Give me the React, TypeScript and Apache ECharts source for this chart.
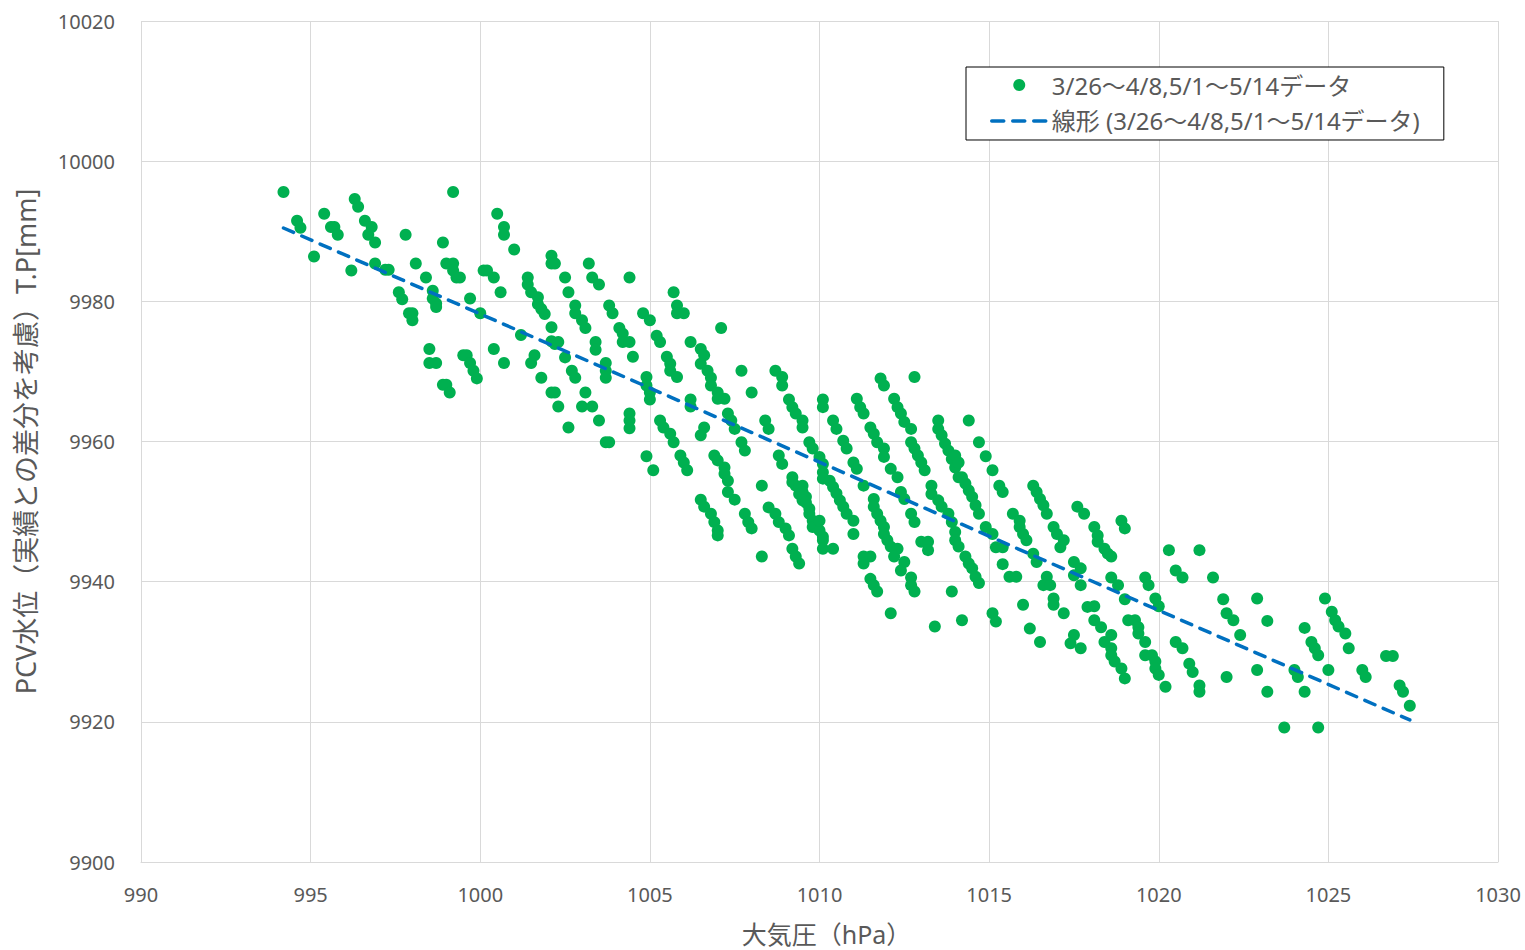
import { useEffect, useRef } from "react";
import * as echarts from "echarts";

// Series / legend labels
const SCATTER_NAME = "3/26～4/8,5/1～5/14データ";
const TREND_NAME = "線形 (3/26～4/8,5/1～5/14データ)";
const X_TITLE = "大気圧（hPa）";
const Y_TITLE = "PCV水位（実績との差分を考慮）T.P[mm]";

// Axis ranges
const X_MIN = 990;
const X_MAX = 1030;
const X_STEP = 5;
const Y_MIN = 9900;
const Y_MAX = 10020;
const Y_STEP = 20;

// Observations: [atmospheric pressure (hPa), PCV water level (mm)]
const obs994to1000: [number, number][] = [
  [994.2, 9995.6], [994.6, 9991.5], [994.7, 9990.5], [995.1, 9986.4], [995.4, 9992.5],
  [995.6, 9990.6], [995.7, 9990.6], [995.8, 9989.5], [996.2, 9984.4], [996.3, 9994.6],
  [996.4, 9993.5], [996.6, 9991.5], [996.8, 9990.6], [996.7, 9989.5], [996.9, 9988.4],
  [996.9, 9985.4], [997.2, 9984.5], [997.3, 9984.5], [997.8, 9989.5], [998.1, 9985.4],
  [997.6, 9981.3], [997.7, 9980.3], [997.9, 9978.3], [998.0, 9978.3], [998.0, 9977.3],
  [999.2, 9995.6], [998.9, 9988.4], [998.4, 9983.4], [999.0, 9985.4], [999.2, 9985.4],
  [999.2, 9984.4], [999.3, 9983.4], [999.4, 9983.4], [998.6, 9981.5], [998.6, 9980.4],
  [998.7, 9979.7], [998.7, 9979.2], [999.7, 9980.4], [998.5, 9973.2], [998.5, 9971.2],
  [998.7, 9971.2], [999.5, 9972.3], [999.6, 9972.3], [999.7, 9971.2], [999.8, 9970.1],
  [999.9, 9969.0], [998.9, 9968.1], [999.0, 9968.1], [999.1, 9967.0],
];

const obs1000to1005: [number, number][] = [
  [1000.5, 9992.5], [1000.7, 9990.6], [1000.7, 9989.5], [1001.0, 9987.4], [1000.1, 9984.4],
  [1000.2, 9984.4], [1000.4, 9983.4], [1000.6, 9981.3], [1000.0, 9978.3], [1001.2, 9975.2],
  [1001.4, 9983.4], [1001.4, 9982.4], [1001.5, 9981.3], [1001.7, 9980.6], [1001.7, 9979.6],
  [1001.8, 9978.9], [1001.9, 9978.2], [1002.1, 9986.5], [1002.1, 9985.4], [1002.2, 9985.4],
  [1002.1, 9976.3], [1002.1, 9974.3], [1002.2, 9973.9], [1000.4, 9973.2], [1000.7, 9971.2],
  [1001.6, 9972.3], [1001.5, 9971.2], [1001.8, 9969.1], [1002.1, 9967.0],
  [1003.2, 9985.4], [1003.3, 9983.4], [1003.5, 9982.4], [1004.4, 9983.4], [1002.5, 9983.4],
  [1002.6, 9981.3], [1002.8, 9979.4], [1002.8, 9978.3], [1003.0, 9977.3], [1003.1, 9976.2],
  [1003.8, 9979.4], [1003.9, 9978.3], [1004.8, 9978.3], [1005.0, 9977.3], [1004.1, 9976.2],
  [1004.2, 9975.4], [1004.2, 9974.2], [1004.4, 9974.2], [1003.4, 9974.2], [1003.4, 9973.1],
  [1002.3, 9974.2], [1002.5, 9972.0], [1004.5, 9972.1], [1003.7, 9971.2], [1003.7, 9970.1],
  [1003.7, 9969.1], [1002.7, 9970.1], [1002.8, 9969.1], [1004.9, 9969.2], [1004.9, 9968.0],
  [1005.0, 9967.0], [1005.0, 9966.0], [1002.2, 9967.0], [1002.3, 9965.0], [1003.1, 9967.0],
  [1003.0, 9965.0], [1003.3, 9965.0], [1004.4, 9964.0], [1004.4, 9963.0], [1004.4, 9961.9],
  [1003.5, 9963.0], [1002.6, 9962.0], [1003.7, 9959.9], [1003.8, 9959.9], [1004.9, 9957.9],
  [1005.1, 9955.9],
];

const obs1005to1010: [number, number][] = [
  [1005.7, 9981.3], [1005.8, 9979.4], [1005.8, 9978.3], [1006.0, 9978.3], [1005.2, 9975.1],
  [1005.3, 9974.2], [1006.2, 9974.2], [1005.5, 9972.1], [1005.6, 9971.1], [1005.6, 9970.1],
  [1005.8, 9969.2], [1006.2, 9966.0], [1006.2, 9965.0], [1005.3, 9963.0], [1005.4, 9962.0],
  [1005.6, 9961.1], [1005.7, 9959.9], [1005.9, 9958.0], [1006.0, 9957.0], [1006.1, 9955.9],
  [1007.1, 9976.2], [1006.5, 9973.2], [1006.6, 9972.3], [1006.5, 9971.1], [1006.7, 9970.1],
  [1006.8, 9969.1], [1006.8, 9968.0], [1007.0, 9967.0], [1007.0, 9966.1], [1007.2, 9966.1],
  [1007.7, 9970.1], [1008.0, 9967.0], [1008.7, 9970.1], [1008.9, 9969.2], [1008.9, 9968.0],
  [1009.1, 9966.0], [1009.2, 9964.9], [1009.3, 9964.0], [1009.5, 9963.0], [1009.5, 9962.0],
  [1007.3, 9964.0], [1007.4, 9963.0], [1007.5, 9961.8], [1008.4, 9963.0], [1008.5, 9961.8],
  [1006.6, 9962.0], [1006.5, 9960.9], [1007.7, 9959.9], [1007.8, 9958.7], [1009.7, 9959.9],
  [1009.8, 9959.0], [1006.9, 9958.0], [1007.0, 9957.3], [1007.2, 9956.3], [1007.2, 9955.4],
  [1007.3, 9954.4], [1008.8, 9958.0], [1008.9, 9956.8], [1008.3, 9953.7], [1007.3, 9952.8],
  [1007.5, 9951.7],
  [1009.2, 9954.9], [1009.2, 9954.2], [1009.3, 9953.7], [1009.4, 9953.4], [1009.5, 9953.7],
  [1009.5, 9952.8], [1009.4, 9952.5], [1009.6, 9952.1], [1009.5, 9951.6], [1009.6, 9951.3],
  [1009.7, 9950.4], [1009.7, 9949.7], [1009.8, 9948.7], [1009.8, 9947.8],
  [1006.5, 9951.7], [1006.6, 9950.7], [1006.8, 9949.7], [1006.9, 9948.5], [1007.0, 9947.3],
  [1007.0, 9946.6], [1007.8, 9949.7], [1007.9, 9948.5], [1008.0, 9947.6], [1008.5, 9950.6],
  [1008.7, 9949.7], [1008.8, 9948.5], [1009.0, 9947.6], [1009.1, 9946.6], [1008.3, 9943.6],
  [1009.2, 9944.7], [1009.3, 9943.6], [1009.4, 9942.6],
];

const obs1010to1015: [number, number][] = [
  [1010.0, 9957.8], [1010.1, 9956.8], [1010.1, 9955.6], [1010.1, 9954.7], [1010.0, 9947.3],
  [1010.1, 9946.4], [1010.1, 9945.9], [1010.0, 9948.7], [1010.1, 9944.7], [1010.1, 9966.0],
  [1010.1, 9964.9],
  [1011.8, 9969.0], [1011.9, 9968.0], [1012.8, 9969.2], [1011.1, 9966.1], [1011.2, 9964.9],
  [1011.3, 9964.0], [1012.2, 9966.1], [1012.3, 9964.9], [1012.4, 9964.0], [1012.5, 9962.8],
  [1012.7, 9961.8], [1010.4, 9963.0], [1010.5, 9961.8], [1011.5, 9962.0], [1011.6, 9961.1],
  [1011.7, 9959.9], [1011.9, 9959.0], [1011.9, 9957.8], [1013.5, 9963.0], [1013.5, 9961.8],
  [1013.6, 9960.9], [1013.7, 9959.7], [1013.8, 9958.7], [1013.9, 9957.5], [1014.0, 9956.3],
  [1014.1, 9954.9], [1012.7, 9959.9], [1012.8, 9959.0], [1012.9, 9958.0], [1013.0, 9957.0],
  [1013.1, 9955.9], [1010.7, 9960.1], [1010.8, 9959.0], [1011.0, 9957.0], [1011.1, 9956.1],
  [1012.1, 9956.1], [1012.3, 9954.9],
  [1010.3, 9954.4], [1010.4, 9953.5], [1010.5, 9952.6], [1010.6, 9951.6], [1010.7, 9950.7],
  [1010.8, 9949.7], [1011.0, 9948.7], [1011.3, 9953.7], [1013.3, 9953.7], [1013.3, 9952.5],
  [1013.5, 9951.6], [1013.6, 9950.7], [1013.8, 9949.7], [1013.9, 9948.5], [1012.4, 9952.8],
  [1012.5, 9951.8], [1011.6, 9951.8], [1011.6, 9950.7], [1011.7, 9949.7], [1011.8, 9948.7],
  [1011.9, 9947.8], [1011.9, 9946.8], [1012.0, 9945.9], [1012.1, 9945.0], [1012.3, 9944.7],
  [1012.2, 9943.6], [1012.7, 9949.7], [1012.8, 9948.5], [1014.0, 9947.1], [1014.0, 9945.9],
  [1014.1, 9945.0], [1011.0, 9946.8], [1010.4, 9944.7], [1013.0, 9945.7], [1013.2, 9945.7],
  [1013.2, 9944.5], [1011.3, 9943.6], [1011.5, 9943.6], [1011.3, 9942.6], [1012.5, 9942.8],
  [1012.4, 9941.6], [1011.5, 9940.4], [1011.6, 9939.5], [1011.7, 9938.6], [1012.7, 9940.6],
  [1012.7, 9939.5], [1012.8, 9938.6], [1013.9, 9938.6], [1012.1, 9935.5], [1013.4, 9933.6],
  [1014.4, 9963.0], [1014.7, 9959.9], [1014.9, 9957.9], [1014.0, 9958.0], [1014.1, 9957.0],
  [1014.2, 9954.9], [1014.3, 9954.0], [1014.4, 9953.0], [1014.5, 9952.1], [1014.6, 9950.9],
  [1014.7, 9949.7], [1014.9, 9947.8], [1014.3, 9943.6], [1014.4, 9942.6], [1014.5, 9941.9],
  [1014.6, 9940.7], [1014.7, 9939.8], [1014.2, 9934.5],
];

const obs1015to1020: [number, number][] = [
  [1015.1, 9955.9], [1015.3, 9953.7], [1015.4, 9952.8], [1016.3, 9953.7], [1016.4, 9952.8],
  [1016.5, 9951.8], [1016.6, 9950.9], [1016.7, 9949.7], [1017.6, 9950.7], [1017.8, 9949.7],
  [1015.7, 9949.7], [1015.9, 9948.7], [1015.9, 9947.8], [1016.0, 9946.8], [1016.1, 9945.9],
  [1016.9, 9947.8], [1017.0, 9946.8], [1017.2, 9945.9], [1017.1, 9944.9], [1015.1, 9946.8],
  [1015.2, 9944.9], [1015.4, 9944.9], [1016.3, 9944.0], [1016.4, 9942.8], [1015.4, 9942.5],
  [1017.5, 9942.8], [1017.7, 9941.9], [1017.5, 9940.9], [1017.7, 9939.5], [1015.6, 9940.7],
  [1015.8, 9940.7], [1016.7, 9940.7], [1016.6, 9939.5], [1016.8, 9939.5], [1016.9, 9937.6],
  [1016.9, 9936.7], [1017.2, 9935.5], [1016.0, 9936.7], [1017.9, 9936.4], [1015.1, 9935.5],
  [1015.2, 9934.3], [1016.2, 9933.3], [1016.5, 9931.4], [1017.5, 9932.4], [1017.4, 9931.2],
  [1017.7, 9930.5],
  [1018.9, 9948.7], [1019.0, 9947.6], [1018.1, 9947.8], [1018.2, 9946.6], [1018.2, 9945.7],
  [1018.4, 9944.7], [1018.5, 9944.0], [1018.6, 9943.6], [1018.6, 9940.6], [1018.8, 9939.5],
  [1019.6, 9940.6], [1019.7, 9939.5], [1019.0, 9937.5], [1019.9, 9937.6], [1018.1, 9936.5],
  [1018.1, 9934.5], [1018.3, 9933.5], [1019.1, 9934.5], [1019.3, 9934.5], [1019.4, 9933.5],
  [1019.4, 9932.6], [1019.6, 9931.4], [1018.4, 9931.4], [1018.6, 9932.4], [1018.6, 9930.5],
  [1018.6, 9929.5], [1018.7, 9928.6], [1018.9, 9927.6], [1019.0, 9926.2], [1019.6, 9929.5],
  [1019.8, 9929.5], [1019.9, 9928.6], [1019.9, 9927.6],
];

const obs1020to1028: [number, number][] = [
  [1020.0, 9936.5], [1020.3, 9944.5], [1021.2, 9944.5], [1020.5, 9941.6], [1020.7, 9940.6],
  [1021.6, 9940.6], [1021.9, 9937.5], [1022.0, 9935.5], [1020.5, 9931.4], [1020.7, 9930.5],
  [1020.0, 9926.7], [1020.2, 9925.0], [1020.9, 9928.3], [1021.0, 9927.1], [1021.2, 9925.2],
  [1021.2, 9924.3], [1022.0, 9926.4],
  [1022.2, 9934.5], [1022.4, 9932.4], [1022.9, 9937.6], [1023.2, 9934.4], [1024.3, 9933.4],
  [1024.5, 9931.4], [1024.6, 9930.5], [1024.7, 9929.5], [1024.9, 9937.6], [1025.1, 9935.7],
  [1025.2, 9934.5], [1025.3, 9933.6], [1025.5, 9932.6], [1025.6, 9930.5], [1026.7, 9929.4],
  [1026.9, 9929.4], [1022.9, 9927.4], [1024.0, 9927.4], [1024.1, 9926.4], [1025.0, 9927.4],
  [1026.0, 9927.4], [1026.1, 9926.4], [1023.2, 9924.3], [1024.3, 9924.3], [1027.1, 9925.2],
  [1027.2, 9924.3], [1027.4, 9922.3], [1023.7, 9919.2], [1024.7, 9919.2],
];

const TEXT_COLOR = "#595959";
const GRID_COLOR = "#d9d9d9";
const POINT_COLOR = "#00B050";
const TREND_COLOR = "#0070C0";
const FONT = "'Noto Sans', 'Noto Sans CJK JP', sans-serif";

// Ordinary least-squares fit used for the linear trend line
function linearFit(points: [number, number][]) {
  const n = points.length;
  let sx = 0, sy = 0, sxy = 0, sxx = 0;
  for (const [x, y] of points) {
    sx += x; sy += y; sxy += x * y; sxx += x * x;
  }
  const slope = (n * sxy - sx * sy) / (n * sxx - sx * sx);
  const intercept = (sy - slope * sx) / n;
  return { slope, intercept };
}

// Plain integer tick labels (no thousands separator)
const plainTick = (v: number) => String(Math.round(v));

export default function App() {
  const ref = useRef<HTMLDivElement>(null);

  useEffect(() => {
    if (!ref.current) return;
    const chart = echarts.init(ref.current, null, { renderer: "svg" });

    const observations = [
      ...obs994to1000,
      ...obs1000to1005,
      ...obs1005to1010,
      ...obs1010to1015,
      ...obs1015to1020,
      ...obs1020to1028,
    ];
    const { slope, intercept } = linearFit(observations);
    const xs = observations.map((p) => p[0]);
    const x0 = Math.min(...xs);
    const x1 = Math.max(...xs);
    const trend: [number, number][] = [
      [x0, intercept + slope * x0],
      [x1, intercept + slope * x1],
    ];

    chart.setOption({
      animation: false,
      backgroundColor: "#ffffff",
      textStyle: { fontFamily: FONT },
      grid: {
        left: 141,
        right: 27,
        top: 21,
        bottom: 88,
        containLabel: false,
        outerBoundsMode: "none",
      },
      legend: {
        orient: "vertical",
        left: 966,
        top: 67,
        padding: [6, 24, 7, 24],
        itemGap: 12,
        itemWidth: 55,
        itemHeight: 12,
        borderColor: "#000000",
        borderWidth: 1,
        backgroundColor: "#ffffff",
        textStyle: { color: TEXT_COLOR, fontSize: 24, fontFamily: FONT },
        data: [
          { name: SCATTER_NAME, icon: "circle" },
          {
            name: TREND_NAME,
            itemStyle: { color: "rgba(0,0,0,0)", borderColor: "rgba(0,0,0,0)", borderWidth: 0 },
            lineStyle: { color: TREND_COLOR, width: 3.5, type: [12, 9] },
          },
        ],
      },
      xAxis: {
        type: "value",
        min: X_MIN,
        max: X_MAX,
        interval: X_STEP,
        name: X_TITLE,
        nameLocation: "middle",
        nameGap: 59,
        nameTextStyle: {
          color: TEXT_COLOR,
          fontSize: 25,
          lineHeight: 25,
          fontFamily: FONT,
          padding: [0, 0, 0, 14],
        },
        axisLine: { show: true, lineStyle: { color: GRID_COLOR, width: 1 } },
        axisTick: { show: false },
        axisLabel: { color: TEXT_COLOR, fontSize: 20, margin: 22, fontFamily: FONT, formatter: plainTick },
        splitLine: { show: true, lineStyle: { color: GRID_COLOR, width: 1 } },
      },
      yAxis: {
        type: "value",
        min: Y_MIN,
        max: Y_MAX,
        interval: Y_STEP,
        name: Y_TITLE,
        nameLocation: "middle",
        nameGap: 102,
        nameTextStyle: { color: TEXT_COLOR, fontSize: 27, fontFamily: FONT },
        axisLine: { show: false },
        axisTick: { show: false },
        axisLabel: { color: TEXT_COLOR, fontSize: 20, margin: 26, fontFamily: FONT, formatter: plainTick },
        splitLine: { show: true, lineStyle: { color: GRID_COLOR, width: 1 } },
      },
      series: [
        {
          name: SCATTER_NAME,
          type: "scatter",
          data: observations,
          symbol: "circle",
          symbolSize: 12,
          itemStyle: { color: POINT_COLOR, opacity: 1 },
          emphasis: { disabled: true },
        },
        {
          name: TREND_NAME,
          type: "line",
          data: trend,
          symbol: "none",
          showSymbol: false,
          lineStyle: { color: TREND_COLOR, width: 3.5, type: [11, 9], cap: "round" },
          itemStyle: { color: TREND_COLOR },
          emphasis: { disabled: true },
          z: 3,
        },
      ],
    });

    return () => {
      chart.dispose();
    };
  }, []);

  return (
    <div
      ref={ref}
      style={{ position: "absolute", left: 0, top: 0, width: 1525, height: 950, background: "#fff" }}
    />
  );
}
